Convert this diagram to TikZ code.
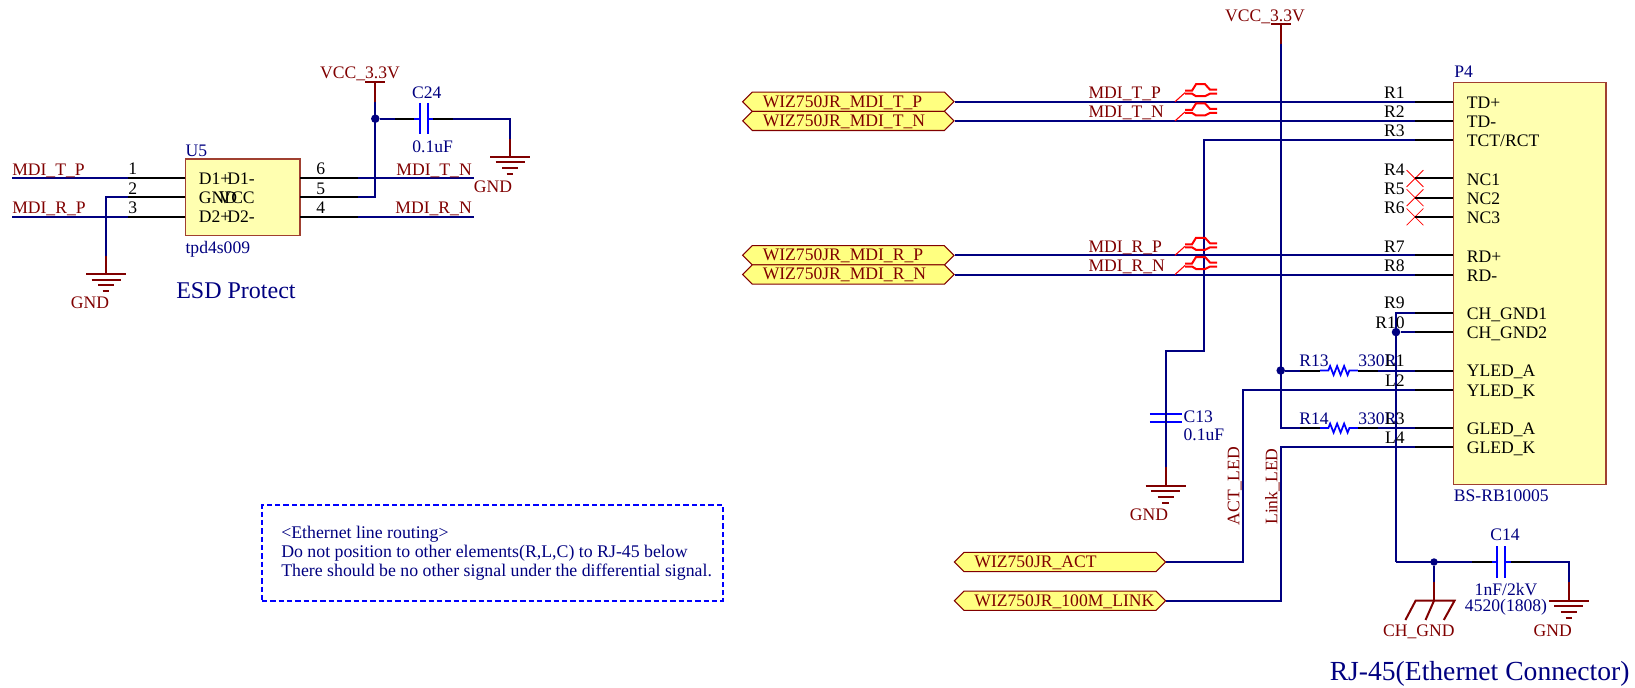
\documentclass[tikz,border=0pt]{standalone}
\usepackage{fontspec}
\setmainfont{Liberation Serif}
\usetikzlibrary{shapes.symbols,shapes.misc}
\definecolor{netblue}{HTML}{000080}
\definecolor{partblue}{HTML}{0000FF}
\definecolor{powred}{HTML}{800000}
\definecolor{chipfill}{HTML}{FFFFB0}
\definecolor{portfill}{HTML}{FFFF80}
\definecolor{chipedge}{HTML}{A04030}
\begin{document}
\begin{tikzpicture}[x=0.75pt,y=-0.75pt,line join=miter,
    wire/.style={draw=netblue, line width=1.5pt},
    pin/.style={draw=black, line width=1.5pt},
    power/.style={draw=powred, line width=1.5pt},
    part/.style={draw=partblue, line width=1.5pt},
    dot/.style={circle, fill=netblue, inner sep=0pt, minimum size=6.4pt},
    txt/.style={inner sep=0pt, text height=8.7pt, text depth=0pt, font=\fontsize{13.2}{15}\selectfont},
    net/.style={txt, text=powred},
    des/.style={txt, text=netblue},
    pnum/.style={txt, text=black},
    chip/.style={rectangle, draw=chipedge, fill=chipfill, line width=0.9pt},
    port/.style={signal, signal to=west and east, draw=powred, fill=portfill, line width=0.8pt, inner sep=0pt, minimum width=158.5pt, minimum height=14.4pt, text=powred, text width=136pt, align=left, text height=8pt, text depth=0pt, font=\fontsize{13.2}{15}\selectfont, execute at begin node=\hspace*{3.8pt}},
    nox/.style={cross out, draw=red, line width=0.6pt, inner sep=0pt, minimum size=12pt},
    gnd/.pic={\draw[power] (-20,0) -- (20,0) (-14.5,5.6) -- (14.5,5.6) (-8,11.4) -- (8,11.4) (-3.3,17.2) -- (3.3,17.2);},
    vcc/.pic={\draw[power] (-10,0) -- (10,0) (0,0) -- (0,19.4) coordinate (-b);},
    cap/.pic={\draw[part] (-4,-15.8) -- (-4,15.8) (4,-15.8) -- (4,15.8) (-9.5,0) -- (-4,0) (4,0) -- (9.5,0);
        \draw[pin] (-29,0) coordinate (-l) -- (-9.5,0) (9.5,0) -- (29,0) coordinate (-r);},
    res/.pic={\draw[part, line width=1.3pt] (-19,0) -- (-10.5,0) -- ++(1.75,-4.5) -- ++(3.5,9) -- ++(3.5,-9) -- ++(3.5,9) -- ++(3.5,-9) -- ++(3.5,9) -- (10.5,0) -- (19,0);
        \draw[pin] (-39,0) coordinate (-l) -- (-19,0) (19,0) -- (39,0) coordinate (-r);},
    diff/.pic={\draw[red, line width=0.8pt] (0,0) -- (10,-9);
        \draw[red, line width=1.5pt] (10,-11) -- (17,-11) -- (21,-17.5) -- (30,-17.5) -- (35,-12) -- (42,-12) (10,-8) -- (17,-8) -- (21,-5.5) -- (30,-5.5) -- (35,-8) -- (42,-8);},
    ]
    \useasboundingbox (0,0) rectangle (1635,688);
    % ESD part
    \node[chip, minimum width=86pt, minimum height=57.2pt] (U5) at (242.65,197.15) {};
    \coordinate (u5p1) at (185.3,178);
    \coordinate (u5p2) at (185.3,197.3);
    \coordinate (u5p3) at (185.3,216.7);
    \coordinate (u5p6) at (300,178);
    \coordinate (u5p5) at (300,197.3);
    \coordinate (u5p4) at (300,216.7);
    \coordinate (tpEnd) at (12,178);
    \coordinate (rpEnd) at (12,216.7);
    \coordinate (tnEnd) at (474,178);
    \coordinate (rnEnd) at (474,216.7);
    \draw[pin] (u5p1) -- ++(-57.3,0) coordinate (u5s1);
    \draw[pin] (u5p2) -- ++(-57.3,0) coordinate (u5s2);
    \draw[pin] (u5p3) -- ++(-57.3,0) coordinate (u5s3);
    \draw[pin] (u5p6) -- ++(58,0) coordinate (u5s6);
    \draw[pin] (u5p5) -- ++(58,0) coordinate (u5s5);
    \draw[pin] (u5p4) -- ++(58,0) coordinate (u5s4);
    \draw[wire] (u5s1) -- (tpEnd);
    \draw[wire] (u5s3) -- (rpEnd);
    \draw[wire] (u5s6) -- (tnEnd);
    \draw[wire] (u5s4) -- (rnEnd);
    \pic (vccL) at (375.3,82.3) {vcc};
    \pic (gndA) at (106,274) {gnd};
    \pic (gndB) at (510,156.7) {gnd};
    \pic (C24) at (423.5,118.7) {cap};
    \coordinate (gndAt) at (106,256);
    \coordinate (gndBt) at (510,138.7);
    \draw[power] (gndAt) -- ++(0,18);
    \draw[power] (gndBt) -- ++(0,18);
    \draw[wire] (u5s2) -| (gndAt);
    \draw[wire] (u5s5) -| (vccL-b);
    \node[dot] (jC24) at (375.3,118.7) {};
    \draw[wire] (jC24) -- (C24-l);
    \draw[wire] (C24-r) -| (gndBt);
    \node[des, anchor=west] (lblU5) at (185.3,150.7) {U5};
    \node[des, anchor=west] (lblTpd) at (185.3,247.3) {tpd4s009};
    \node[pnum, anchor=west] (lblD1p) at (198.7,178.5) {D1+};
    \node[pnum, anchor=east] (lblD1n) at (255,178.5) {D1-};
    \node[pnum, anchor=west] (lblGnd) at (198.7,197.8) {GND};
    \node[pnum, anchor=east] (lblVcc) at (255,197.8) {VCC};
    \node[pnum, anchor=west] (lblD2p) at (198.7,217.2) {D2+};
    \node[pnum, anchor=east] (lblD2n) at (255,217.2) {D2-};
    \node[pnum] (num1) at (132.7,169) {1};
    \node[pnum] (num2) at (132.7,188.5) {2};
    \node[pnum] (num3) at (132.7,207.7) {3};
    \node[pnum] (num6) at (320.7,169) {6};
    \node[pnum] (num5) at (320.7,188.5) {5};
    \node[pnum] (num4) at (320.7,207.7) {4};
    \node[net, anchor=west] (lblTP) at (12,169.3) {MDI\_T\_P};
    \node[net, anchor=west] (lblRP) at (12,207.5) {MDI\_R\_P};
    \node[net, anchor=east] (lblTN) at (472,169.3) {MDI\_T\_N};
    \node[net, anchor=east] (lblRN) at (472,207.5) {MDI\_R\_N};
    \node[net] (lblVccL) at (360,72.7) {VCC\_3.3V};
    \node[net] (lblGndA) at (90,303) {GND};
    \node[net] (lblGndB) at (493,186.7) {GND};
    \node[des] (lblC24) at (426.7,92.7) {C24};
    \node[des] (lblC24v) at (432.7,146.7) {0.1uF};
    \node[des, text height=12pt, anchor=west, font=\fontsize{18}{20}\selectfont] (lblEsd) at (176,290.5) {ESD Protect};
    % note
    \node[rectangle, draw=partblue, line width=1.3pt, dash pattern=on 4pt off 2.25pt, minimum width=346pt, minimum height=71.8pt] (noteBox) at (492.65,552.85) {};
    \node[inner sep=0pt, anchor=west, align=left, text=netblue, font=\fontsize{13.35}{14.4}\selectfont] (noteTxt) at (281,553.5) {<Ethernet line routing>\\Do not position to other elements(R,L,C) to RJ-45 below\\There should be no other signal under the differential signal.};
    % connector
    \node[chip, minimum width=114.5pt, minimum height=301.8pt] (P4) at (1529.65,283.5) {};
    \coordinate (p4a) at (1453.3,101.7);
    \coordinate (p4b) at (1453.3,120.9);
    \coordinate (p4c) at (1453.3,140.1);
    \coordinate (p4d) at (1453.3,178.5);
    \coordinate (p4e) at (1453.3,197.7);
    \coordinate (p4f) at (1453.3,216.9);
    \coordinate (p4g) at (1453.3,255.3);
    \coordinate (p4h) at (1453.3,274.5);
    \coordinate (p4i) at (1453.3,312.9);
    \coordinate (p4j) at (1453.3,332.1);
    \coordinate (p4k) at (1453.3,370.5);
    \coordinate (p4l) at (1453.3,389.7);
    \coordinate (p4m) at (1453.3,428.1);
    \coordinate (p4n) at (1453.3,447.3);
    \draw[pin] (p4a) -- ++(-38.3,0) coordinate (sa);
    \draw[pin] (p4b) -- ++(-38.3,0) coordinate (sb);
    \draw[pin] (p4c) -- ++(-38.3,0) coordinate (sc);
    \draw[pin] (p4g) -- ++(-38.3,0) coordinate (sg);
    \draw[pin] (p4h) -- ++(-38.3,0) coordinate (sh);
    \draw[pin] (p4i) -- ++(-38.3,0) coordinate (si);
    \draw[pin] (p4j) -- ++(-38.3,0) coordinate (sj);
    \draw[pin] (p4k) -- ++(-38.3,0) coordinate (sk);
    \draw[pin] (p4l) -- ++(-38.3,0) coordinate (sl);
    \draw[pin] (p4m) -- ++(-38.3,0) coordinate (sm);
    \draw[pin] (p4n) -- ++(-38.3,0) coordinate (sn);
    \node[nox] (xd) at (1415,178.5) {};
    \node[nox] (xe) at (1415,197.7) {};
    \node[nox] (xf) at (1415,216.9) {};
    \draw[pin] (xd.center) -- (p4d);
    \draw[pin] (xe.center) -- (p4e);
    \draw[pin] (xf.center) -- (p4f);
    % ports
    \node[port] (portTP) at (848.35,101.7) {WIZ750JR\_MDI\_T\_P};
    \node[port] (portTN) at (848.35,120.9) {WIZ750JR\_MDI\_T\_N};
    \node[port] (portRP) at (848.35,255.3) {WIZ750JR\_MDI\_R\_P};
    \node[port] (portRN) at (848.35,274.5) {WIZ750JR\_MDI\_R\_N};
    \node[port] (portAct) at (1060,562) {WIZ750JR\_ACT};
    \node[port] (portLink) at (1060,600.7) {WIZ750JR\_100M\_LINK};
    \draw[wire] (portTP.east) -- (sa);
    \draw[wire] (portTN.east) -- (sb);
    \draw[wire] (portRP.east) -- (sg);
    \draw[wire] (portRN.east) -- (sh);
    \draw[wire] (portAct.east) -| (1242.5,389.7) -- (sl);
    \draw[wire] (portLink.east) -| (1280.7,447.3) -- (sn);
    % decoupling
    \pic[rotate=90] (C13) at (1165.7,418.4) {cap};
    \pic (gndC) at (1165.7,485.5) {gnd};
    \coordinate (gndCt) at (1165.7,466.7);
    \draw[power] (gndCt) -- ++(0,18.8);
    \draw[wire] (C13-r) -- (gndCt);
    \draw[wire] (sc) -| (1204,351) -| (C13-l);
    % led power
    \pic (vccR) at (1280.7,24.3) {vcc};
    \pic (R13) at (1338.85,370.5) {res};
    \pic (R14) at (1338.85,428.1) {res};
    \node[dot] (jLed) at (1280.7,370.5) {};
    \draw[wire] (vccR-b) |- (R14-l);
    \draw[wire] (jLed) -- (R13-l);
    \draw[wire] (R13-r) -- (sk);
    \draw[wire] (R14-r) -- (sm);
    % chassis
    \pic (C14) at (1501.4,562) {cap};
    \pic (gndD) at (1568.8,600.7) {gnd};
    \coordinate (gndDt) at (1568.8,582);
    \coordinate (chT) at (1434,582);
    \coordinate (chB) at (1434,600.7);
    \coordinate (chC) at (1396,562);
    \draw[power] (gndDt) -- ++(0,18.7);
    \draw[wire] (C14-r) -| (gndDt);
    \draw[wire] (si) -| (chC);
    \node[dot] (jCh) at (1396,332.1) {};
    \draw[wire] (jCh) -- (sj);
    \node[dot, minimum size=5.6pt] (jCap) at (1434,562) {};
    \draw[wire] (chC) -- (C14-l);
    \draw[wire] (jCap) -- (chT);
    \draw[power] (chT) -- (chB);
    \draw[power] (1405.4,620) -- (1415.6,600.7) -- (1454.5,600.7) -- (1443.8,620);
    \draw[power] (chB) -- (1425.5,620);
    % diff pair marks
    \pic (dTP) at (1175,101.7) {diff};
    \pic (dTN) at (1175,120.9) {diff};
    \pic (dRP) at (1175,255.3) {diff};
    \pic (dRN) at (1175,274.5) {diff};
    % texts of the connector
    \node[net, anchor=west] (lblTPr) at (1088.3,92.7) {MDI\_T\_P};
    \node[net, anchor=west] (lblTNr) at (1088.3,111.7) {MDI\_T\_N};
    \node[net, anchor=west] (lblRPr) at (1088.3,246.7) {MDI\_R\_P};
    \node[net, anchor=west] (lblRNr) at (1088.3,265.5) {MDI\_R\_N};
    \node[net] (lblVccR) at (1265,15.5) {VCC\_3.3V};
    \node[net] (lblGndC) at (1149,514.3) {GND};
    \node[net] (lblGndD) at (1552.7,630.7) {GND};
    \node[net] (lblCh) at (1418.8,630.7) {CH\_GND};
    \node[net, rotate=90, anchor=west] (lblAct) at (1233.5,525.7) {ACT\_LED};
    \node[net, rotate=90, anchor=west] (lblLink) at (1271.5,525) {Link\_LED};
    \node[des, anchor=west] (lblP4) at (1454,71.7) {P4};
    \node[des, anchor=west] (lblBs) at (1453.6,495.7) {BS-RB10005};
    \node[des, anchor=west] (lblC13) at (1183.3,416.7) {C13};
    \node[des, anchor=west] (lblC13v) at (1183.3,435) {0.1uF};
    \node[des] (lblC14) at (1505,535) {C14};
    \node[des] (lblC14v) at (1506,589.3) {1nF/2kV};
    \node[des] (lblC14s) at (1506,606) {4520(1808)};
    \node[des] (lblR13) at (1314,361) {R13};
    \node[des, anchor=west] (lblR13v) at (1358,361) {330R};
    \node[des] (lblR14) at (1314,418.5) {R14};
    \node[des, anchor=west] (lblR14v) at (1358,418.5) {330R};
    \node[des, text height=12pt, anchor=west, font=\fontsize{20.7}{23}\selectfont] (lblRj) at (1329.5,672) {RJ-45(Ethernet Connector)};
    \node[pnum, anchor=east] (nR1) at (1405,92.7) {R1};
    \node[pnum, anchor=east] (nR2) at (1405,111.7) {R2};
    \node[pnum, anchor=east] (nR3) at (1405,131) {R3};
    \node[pnum, anchor=east] (nR4) at (1405,169.5) {R4};
    \node[pnum, anchor=east] (nR5) at (1405,188.5) {R5};
    \node[pnum, anchor=east] (nR6) at (1405,207.5) {R6};
    \node[pnum, anchor=east] (nR7) at (1405,246.5) {R7};
    \node[pnum, anchor=east] (nR8) at (1405,265.5) {R8};
    \node[pnum, anchor=east] (nR9) at (1405,303) {R9};
    \node[pnum, anchor=east] (nR10) at (1405,322.3) {R10};
    \node[pnum, anchor=east] (nL1) at (1405,361) {L1};
    \node[pnum, anchor=east] (nL2) at (1405,380.7) {L2};
    \node[pnum, anchor=east] (nL3) at (1405,418.5) {L3};
    \node[pnum, anchor=east] (nL4) at (1405,438) {L4};
    \node[pnum, anchor=west] (pTDp) at (1466.7,102.7) {TD+};
    \node[pnum, anchor=west] (pTDn) at (1466.7,121.9) {TD-};
    \node[pnum, anchor=west] (pTCT) at (1466.7,141.1) {TCT/RCT};
    \node[pnum, anchor=west] (pNC1) at (1466.7,179.5) {NC1};
    \node[pnum, anchor=west] (pNC2) at (1466.7,198.7) {NC2};
    \node[pnum, anchor=west] (pNC3) at (1466.7,217.9) {NC3};
    \node[pnum, anchor=west] (pRDp) at (1466.7,256.3) {RD+};
    \node[pnum, anchor=west] (pRDn) at (1466.7,275.5) {RD-};
    \node[pnum, anchor=west] (pCH1) at (1466.7,313.9) {CH\_GND1};
    \node[pnum, anchor=west] (pCH2) at (1466.7,333.1) {CH\_GND2};
    \node[pnum, anchor=west] (pYA) at (1466.7,371) {YLED\_A};
    \node[pnum, anchor=west] (pYK) at (1466.7,390.2) {YLED\_K};
    \node[pnum, anchor=west] (pGA) at (1466.7,428.6) {GLED\_A};
    \node[pnum, anchor=west] (pGK) at (1466.7,447.8) {GLED\_K};
\end{tikzpicture}
\end{document}
